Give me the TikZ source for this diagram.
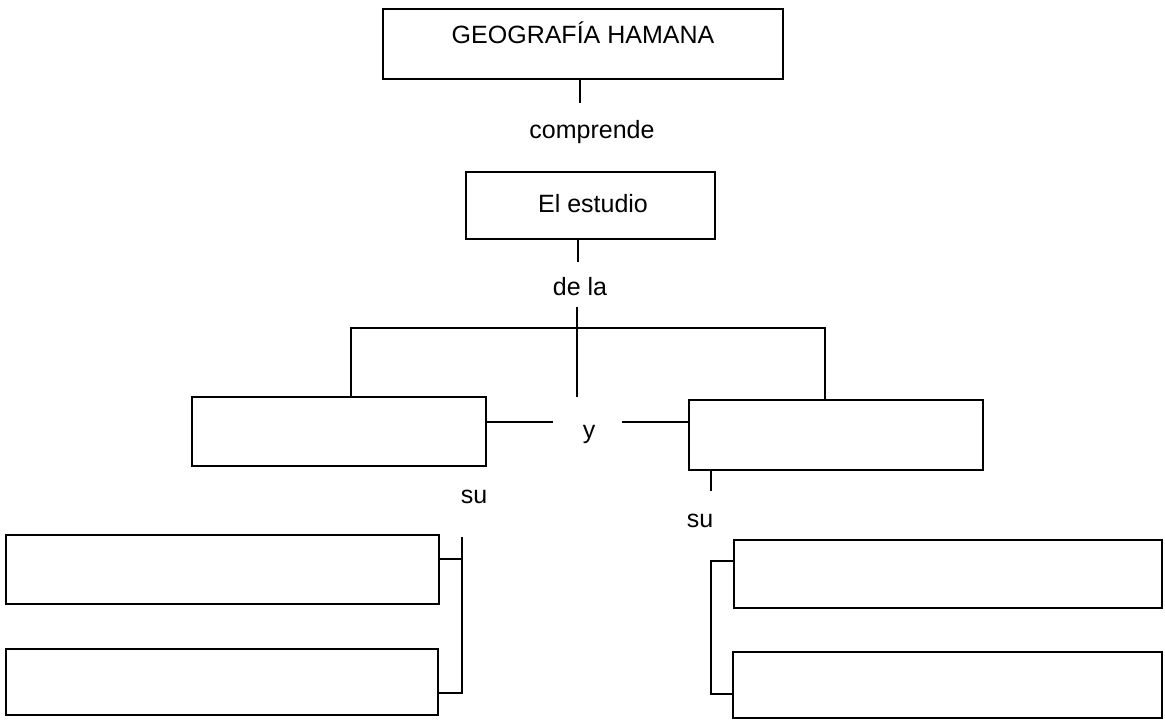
\documentclass[tikz,border=0pt]{standalone}
\usepackage{fontspec}
\setmainfont{Liberation Sans}
\begin{document}
\begin{tikzpicture}[x=1pt,y=-1pt,
  box/.style={draw, line width=2pt, rectangle, inner sep=0pt, outer sep=0pt},
  conn/.style={line width=1.8pt},
  lbl/.style={anchor=base, inner sep=0pt, font=\fontsize{25}{29}\selectfont}]
\useasboundingbox (0,0) rectangle (1165,720);
% boxes
\node[box, minimum width=400pt, minimum height=70pt] (top) at (583,44) {};
\node[box, minimum width=249pt, minimum height=67pt] (est) at (590.5,205.5) {};
\node[box, minimum width=294pt, minimum height=69pt] (L) at (339,431.5) {};
\node[box, minimum width=294pt, minimum height=70pt] (R) at (836,435) {};
\node[box, minimum width=433pt, minimum height=69pt] (L1) at (222.5,569.5) {};
\node[box, minimum width=432pt, minimum height=66pt] (L2) at (222,682) {};
\node[box, minimum width=428pt, minimum height=68pt] (R1) at (948,574) {};
\node[box, minimum width=429pt, minimum height=66pt] (R2) at (947.5,685) {};
% labels
\node[lbl] (tt) at (583,43) {GEOGRAFÍA HAMANA};
\node[lbl] (comp) at (592,138) {comprende};
\node[lbl] (estt) at (593,212) {El estudio};
\node[lbl] (dela) at (580,295) {de la};
\node[lbl] (yy) at (589,438) {y};
\node[lbl] (suL) at (474,503) {su};
\node[lbl] (suR) at (700,527) {su};
% coordinates
\coordinate (c1) at (580,103);
\coordinate (c2) at (578,262);
\coordinate (d1) at (577,307);
\coordinate (hl) at (351,328);
\coordinate (hr) at (825,328);
\coordinate (yl) at (553,422);
\coordinate (yr) at (622,422);
\coordinate (s1) at (711,491);
\coordinate (lb1) at (462,559);
\coordinate (lb0) at (462,537);
\coordinate (lb2) at (462,693);
\coordinate (rb1) at (711,561);
\coordinate (rb2) at (711,694);
% connectors
\draw[conn] (top.south -| c1) -- (c1);
\draw[conn] (est.south -| c2) -- (c2);
\draw[conn] (d1) -- (L.north -| d1);
\draw[conn] (L.north -| hl) -- (hl) -- (hr) -- (R.north -| hr);
\draw[conn] (L.east |- yl) -- (yl);
\draw[conn] (yr) -- (R.west |- yr);
\draw[conn] (R.south -| s1) -- (s1);
\draw[conn] (L1.east |- lb1) -- (lb1);
\draw[conn] (lb0) -- (lb2) -- (L2.east |- lb2);
\draw[conn] (R1.west |- rb1) -- (rb1) -- (rb2) -- (R2.west |- rb2);
\end{tikzpicture}
\end{document}
